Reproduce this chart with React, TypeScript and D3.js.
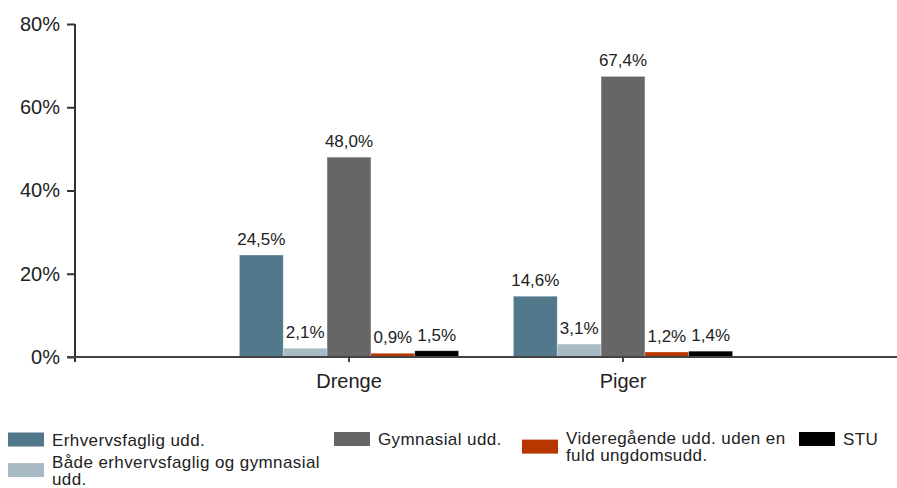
import React, { useEffect, useRef } from 'react';
import * as d3 from 'd3';

// grupper og serier
const groups: string[] = ['Drenge', 'Piger'];
const seriesNames: string[] = [
  'Erhvervsfaglig udd.',
  'Både erhvervsfaglig og gymnasial udd.',
  'Gymnasial udd.',
  'Videregående udd. uden en fuld ungdomsudd.',
  'STU',
];
const seriesColors: string[] = ['#52798b', '#a8bac3', '#666666', '#b83700', '#000000'];

// værdier i procent pr. serie, [Drenge, Piger]
const erhvervsfaglig: number[] = [24.5, 14.6];
const baade: number[] = [2.1, 3.1];
const gymnasial: number[] = [48.0, 67.4];
const videregaaende: number[] = [0.9, 1.2];
const stu: number[] = [1.5, 1.4];
const seriesValues: number[][] = [erhvervsfaglig, baade, gymnasial, videregaaende, stu];

const yTicks: number[] = [0, 20, 40, 60, 80];

// legendens linjeskift
const legendLines: string[][] = [
  ['Erhvervsfaglig udd.'],
  ['Både erhvervsfaglig og gymnasial', 'udd.'],
  ['Gymnasial udd.'],
  ['Videregående udd. uden en', 'fuld ungdomsudd.'],
  ['STU'],
];

const FONT = "'Liberation Sans', Arial, Helvetica, sans-serif";
const TEXT = '#222222';

const Chart: React.FC = () => {
  const svgRef = useRef<SVGSVGElement | null>(null);

  useEffect(() => {
    if (!svgRef.current) return;
    const width = 897;
    const margin = { top: 24, right: 0, bottom: 131, left: 75 };
    const height = 488;
    const yBottom = height - margin.bottom;

    const svg = d3.select(svgRef.current);
    svg.selectAll('*').remove();

    const x0 = d3
      .scaleBand<string>()
      .domain(groups)
      .range([margin.left, width - margin.right])
      .paddingInner(0.2)
      .paddingOuter(0.6);

    const x1 = d3
      .scaleBand<number>()
      .domain(d3.range(seriesNames.length))
      .range([0, x0.bandwidth()])
      .padding(0);

    const y = d3.scaleLinear().domain([0, 80]).range([yBottom, margin.top]);

    // bjælker
    const g = svg.append('g');
    groups.forEach((grp, gi) => {
      seriesValues.forEach((vals, si) => {
        const v = vals[gi];
        const bx = (x0(grp) ?? 0) + (x1(si) ?? 0);
        g.append('rect')
          .attr('x', bx)
          .attr('y', y(v))
          .attr('width', x1.bandwidth())
          .attr('height', yBottom - y(v))
          .attr('fill', seriesColors[si])
          .attr('stroke', '#ffffff')
          .attr('stroke-opacity', 0.35)
          .attr('stroke-width', 0.8);
        g.append('text')
          .attr('x', bx + x1.bandwidth() / 2)
          .attr('y', y(v) - 10)
          .attr('text-anchor', 'middle')
          .attr('font-family', FONT)
          .attr('font-size', 17)
          .attr('fill', TEXT)
          .text(v.toFixed(1).replace('.', ',') + '%');
      });
    });

    // y-akse
    const yAxis = svg
      .append('g')
      .attr('transform', `translate(${margin.left},0)`)
      .call(
        d3
          .axisLeft(y)
          .tickValues(yTicks)
          .tickSize(8)
          .tickPadding(7)
          .tickSizeOuter(0)
          .tickFormat((d) => `${d}%`),
      );
    yAxis.select('.domain').remove();
    yAxis.selectAll('line').attr('stroke', '#333').attr('stroke-width', 2);
    yAxis
      .selectAll('text')
      .attr('font-family', FONT)
      .attr('font-size', 20)
      .attr('fill', TEXT);
    svg
      .append('line')
      .attr('x1', margin.left)
      .attr('x2', margin.left)
      .attr('y1', margin.top)
      .attr('y2', yBottom + 5)
      .attr('stroke', '#333')
      .attr('stroke-width', 2);

    // x-akse
    const xAxis = svg
      .append('g')
      .attr('transform', `translate(0,${yBottom})`)
      .call(d3.axisBottom(x0).tickSize(5).tickPadding(12).tickSizeOuter(0));
    xAxis.select('.domain').remove();
    xAxis.selectAll('line').attr('stroke', '#444').attr('stroke-width', 2);
    xAxis
      .selectAll('text')
      .attr('font-family', FONT)
      .attr('font-size', 20)
      .attr('fill', TEXT);
    svg
      .append('line')
      .attr('x1', margin.left - 8)
      .attr('x2', width)
      .attr('y1', yBottom)
      .attr('y2', yBottom)
      .attr('stroke', '#444')
      .attr('stroke-width', 2);

    // legende
    const legendCols = [8, 334, 522, 799];
    const legendSlots = [
      { col: 0, baseline: 445.5 },
      { col: 0, baseline: 467.5 },
      { col: 1, baseline: 445 },
      { col: 2, baseline: 444 },
      { col: 3, baseline: 445 },
    ];
    const lineH = 17.2;
    const legend = svg.append('g');
    seriesNames.forEach((_, i) => {
      const slot = legendSlots[i];
      const lx = legendCols[slot.col];
      const lines = legendLines[i];
      const mid = (slot.baseline + slot.baseline + (lines.length - 1) * lineH) / 2 - 6;
      legend
        .append('rect')
        .attr('x', lx)
        .attr('y', mid - 7)
        .attr('width', 36)
        .attr('height', 14)
        .attr('fill', seriesColors[i]);
      const t = legend
        .append('text')
        .attr('font-family', FONT)
        .attr('font-size', 17)
        .attr('letter-spacing', 0.4)
        .attr('fill', TEXT);
      lines.forEach((ln, li) => {
        t.append('tspan')
          .attr('x', lx + 44)
          .attr('y', slot.baseline + li * lineH)
          .text(ln);
      });
    });
  }, []);

  return (
    <svg
      ref={svgRef}
      width={897}
      height={488}
      style={{ position: 'absolute', left: 0, top: 0, background: '#fff' }}
    />
  );
};

export default function App() {
  return <Chart />;
}
